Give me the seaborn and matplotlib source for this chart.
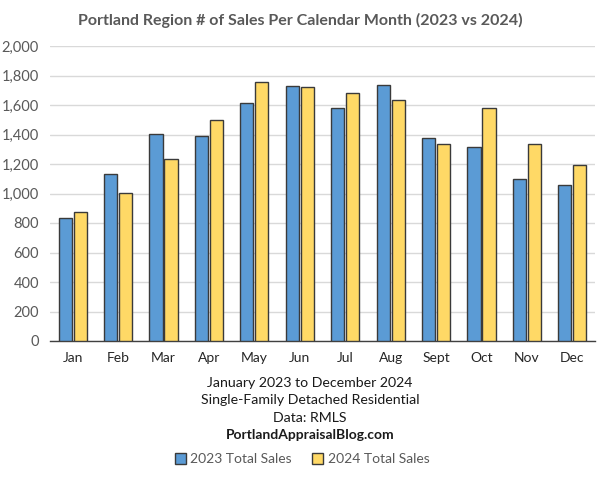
import numpy as np
import pandas as pd
import matplotlib
matplotlib.use('Agg')
import matplotlib.pyplot as plt
import seaborn as sns
from matplotlib.ticker import FuncFormatter
from matplotlib.patches import Patch

months = ['Jan', 'Feb', 'Mar', 'Apr', 'May', 'Jun', 'Jul', 'Aug', 'Sept', 'Oct', 'Nov', 'Dec']
sales_2023 = [837, 1131, 1405, 1387, 1613, 1728, 1579, 1733, 1378, 1312, 1097, 1056]
sales_2024 = [875, 1004, 1231, 1495, 1755, 1724, 1681, 1633, 1337, 1577, 1335, 1192]
series = ['2023 Total Sales', '2024 Total Sales']
colors = ['#5B9BD5', '#FFD966']

df = pd.DataFrame({
    'month': months * 2,
    'sales': sales_2023 + sales_2024,
    'series': [series[0]] * 12 + [series[1]] * 12,
})

sns.set_style('white')
plt.rcParams['font.family'] = ['Lato', 'DejaVu Sans']

fig = plt.figure(figsize=(6, 4.8), dpi=100)
ax = fig.add_axes([50 / 600, 1 - 341 / 480, 545 / 600, 295 / 480])

sns.barplot(data=df, x='month', y='sales', hue='series', order=months,
            palette=colors, saturation=1, width=0.66, gap=0.12,
            edgecolor='#3a3a3a', linewidth=1.0, ax=ax, legend=False, zorder=3)

ax.set_ylim(0, 2000)
ax.set_xlim(-0.5, 11.5)
ax.set_yticks(np.arange(0, 2001, 200))
ax.yaxis.set_major_formatter(FuncFormatter(lambda v, p: f'{int(v):,}'))
ax.grid(axis='y', color='#d9d9d9', linewidth=1, zorder=0)
ax.set_axisbelow(True)
for s in ['top', 'right', 'left']:
    ax.spines[s].set_visible(False)
ax.spines['bottom'].set_color('#404040')
ax.spines['bottom'].set_linewidth(1)

ax.set_xlabel('')
ax.set_ylabel('')
ax.tick_params(axis='y', length=0, labelsize=10.5, labelcolor='#595959', pad=8)
ax.tick_params(axis='x', which='major', length=0, labelsize=10, labelcolor='#262626', pad=8)
ax.set_xticks(np.arange(-0.5, 12, 1), minor=True)
ax.tick_params(axis='x', which='minor', length=4, color='#404040', width=1)

fig.text(0.5, 1 - 20 / 480, 'Portland Region # of Sales Per Calendar Month (2023 vs 2024)',
         ha='center', va='center', fontsize=11.5, fontweight='bold', color='#595959')

cx = 310 / 600
notes = ['January 2023 to December 2024', 'Single-Family Detached Residential', 'Data: RMLS']
ys = [383, 400, 418]
for t, y in zip(notes, ys):
    fig.text(cx, 1 - y / 480, t, ha='center', va='center', fontsize=10.2, color='#1a1a1a')
fig.text(cx, 1 - 435 / 480, 'PortlandAppraisalBlog.com', ha='center', va='center',
         fontsize=10, fontweight='bold', color='#1a1a1a')

handles = [Patch(facecolor=colors[0], edgecolor='#3a3a3a', label=series[0]),
           Patch(facecolor=colors[1], edgecolor='#3a3a3a', label=series[1])]
fig.legend(handles=handles, loc='center', bbox_to_anchor=(302 / 600, 1 - 459 / 480),
           ncol=2, frameon=False, fontsize=10, labelcolor='#595959',
           handlelength=0.8, handleheight=0.8, handletextpad=0.3, columnspacing=1.5)

fig.savefig('out.png', dpi=100)
